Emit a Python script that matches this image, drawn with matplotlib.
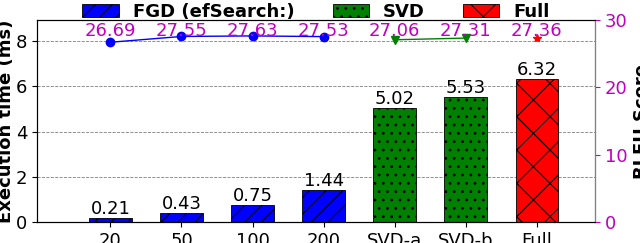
import numpy as np
import matplotlib.pyplot as plt

categories = ['20', '50', '100', '200', 'SVD-a', 'SVD-b', 'Full']
exec_time = [0.21, 0.43, 0.75, 1.44, 5.02, 5.53, 6.32]
bleu_fgd = [26.69, 27.55, 27.63, 27.53]
bleu_svd = [27.06, 27.31]
bleu_full = [27.36]

plt.rcParams['font.size'] = 13
plt.rcParams['hatch.linewidth'] = 0.8

x = np.arange(len(categories))
fig, ax = plt.subplots(figsize=(6.4, 2.43), dpi=100)

b1 = ax.bar(x[:4], exec_time[:4], 0.6, color='blue', edgecolor='black',
            hatch='//', linewidth=0.6, label='FGD (efSearch:)')
b2 = ax.bar(x[4:6], exec_time[4:6], 0.6, color='green', edgecolor='black',
            hatch='..', linewidth=0.6, label='SVD')
b3 = ax.bar(x[6:], exec_time[6:], 0.6, color='red', edgecolor='black',
            hatch='x', linewidth=0.6, label='Full')
for b in [b1, b2, b3]:
    ax.bar_label(b, fmt='%.2f', padding=0, fontsize=13)

ax.set_xlim(-1.03, 6.82)
ax.set_ylim(0, 8.92)
ax.set_yticks([0, 2, 4, 6, 8])
ax.set_xticks(x)
ax.set_xticklabels(categories)
ax.set_ylabel('Execution time (ms)', fontweight='bold', fontsize=13, labelpad=1)
ax.grid(axis='y', linestyle='--', color='gray', linewidth=0.6)
ax.set_axisbelow(True)

ax2 = ax.twinx()
ax2.plot(x[:4], bleu_fgd, color='blue', marker='o', markersize=6, linewidth=1)
ax2.plot(x[4:6], bleu_svd, color='green', marker='v', markersize=6, linewidth=1)
ax2.plot(x[6:], bleu_full, color='red', marker='*', markersize=6, linestyle='none')
# score labels sit on one common baseline
for xi, v in zip(x, bleu_fgd + bleu_svd + bleu_full):
    ax2.text(xi, 27.55, '%.2f' % v, color='m', ha='center', va='baseline', fontsize=13)
ax2.set_ylim(0, 30)
ax2.set_yticks([0, 10, 20, 30])
ax2.tick_params(axis='y', colors='m')
ax2.spines['right'].set_color('gray')
ax2.set_ylabel('BLEU Score', fontweight='bold', fontsize=13)

ax.legend(loc='lower center', bbox_to_anchor=(0.5, 0.995), ncol=3, frameon=False,
          prop={'weight': 'bold', 'size': 13}, handlelength=2.0,
          columnspacing=2.1, borderpad=0, borderaxespad=0)

fig.subplots_adjust(left=0.058, right=0.93, top=0.918, bottom=0.085)
fig.savefig('out.png', dpi=100)
